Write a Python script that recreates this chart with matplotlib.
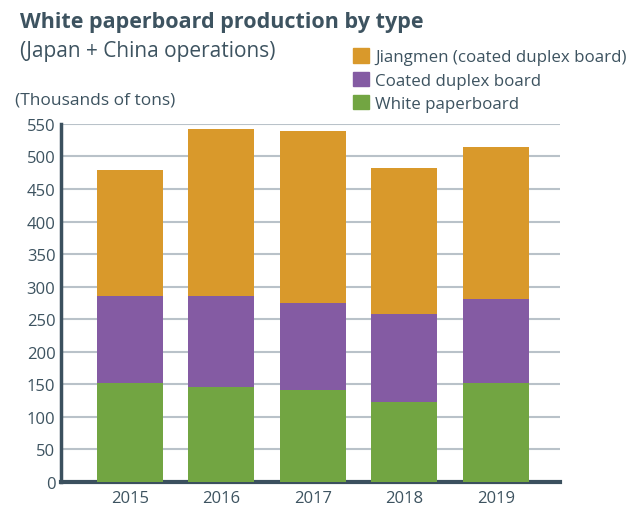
import matplotlib.pyplot as plt
from matplotlib.patches import Patch
import numpy as np

plt.rcParams['font.family'] = ['Open Sans', 'DejaVu Sans']

years = ['2015', '2016', '2017', '2018', '2019']
white = [152, 146, 141, 123, 152]
coated = [134, 139, 134, 135, 129]
jiangmen = [194, 257, 264, 224, 234]

c_white = '#72A542'
c_coated = '#845BA3'
c_jiang = '#D9992B'
txt = '#3D5360'

fig = plt.figure(figsize=(6.27, 5.10), dpi=100)
ax = fig.add_axes([0.0973, 0.053, 0.796, 0.702])

x = np.arange(len(years))
w = 0.72
ax.bar(x, white, w, color=c_white, zorder=3)
ax.bar(x, coated, w, bottom=white, color=c_coated, zorder=3)
bottom2 = np.array(white) + np.array(coated)
ax.bar(x, jiangmen, w, bottom=bottom2, color=c_jiang, zorder=3)

ax.set_xlim(-0.75, 4.7)
ax.set_ylim(0, 550)
ax.set_yticks(range(0, 551, 50))
ax.set_xticks(x)
ax.set_xticklabels(years)
ax.yaxis.grid(True, color='#B9C2C9', linewidth=1.5, zorder=0)
ax.set_axisbelow(True)
for s in ['top', 'right']:
    ax.spines[s].set_visible(False)
ax.spines['left'].set_color('#3B505E')
ax.spines['left'].set_linewidth(2.5)
ax.spines['bottom'].set_color('#3B505E')
ax.spines['bottom'].set_linewidth(3)
ax.tick_params(length=0, labelsize=12, colors=txt)
ax.tick_params(axis='y', pad=4)
ax.tick_params(axis='x', pad=6)

fig.text(0.032, 0.955, 'White paperboard production by type', fontsize=15.5,
         fontweight='bold', color=txt, va='center')
fig.text(0.032, 0.900, '(Japan + China operations)', fontsize=15,
         color=txt, va='center')
fig.text(0.024, 0.803, '(Thousands of tons)', fontsize=12.5,
         color=txt, va='center')

handles = [Patch(color=c_jiang, label='Jiangmen (coated duplex board)'),
           Patch(color=c_coated, label='Coated duplex board'),
           Patch(color=c_white, label='White paperboard')]
leg = fig.legend(handles=handles, loc='upper left', bbox_to_anchor=(0.55, 0.92),
                 frameon=False, fontsize=12.2, handlelength=0.95, handleheight=0.95,
                 handletextpad=0.35, labelspacing=0.36, borderpad=0)
for t in leg.get_texts():
    t.set_color(txt)

plt.savefig('out.png', dpi=100)
